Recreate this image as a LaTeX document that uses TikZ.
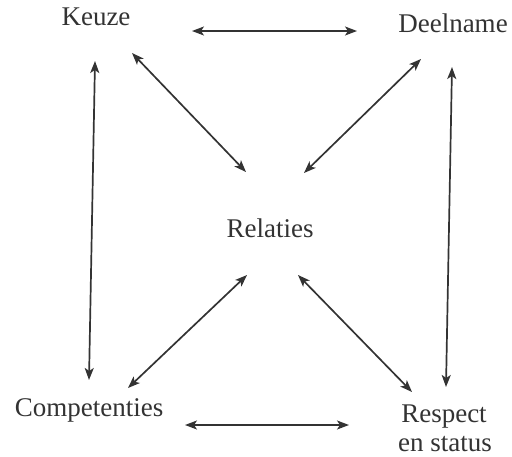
\documentclass[tikz,border=0pt]{standalone}
\usepackage{fontspec}
\setmainfont{Liberation Serif}
\usetikzlibrary{arrows.meta}
\definecolor{ink}{HTML}{333333}
\begin{document}
\begin{tikzpicture}[x=1pt,y=-1pt,
  label/.style={inner sep=0pt,anchor=base,text=ink,font=\fontsize{27}{30}\selectfont},
  link/.style={draw=ink,line width=1.7pt,{Stealth[length=12pt,width=9pt,inset=3pt]}-{Stealth[length=12pt,width=9pt,inset=3pt]}}]
\useasboundingbox (0,0) rectangle (512,456);
% concept labels
\node[label] (keuze) at (96,25) {Keuze};
\node[label] (deelname) at (453,32) {Deelname};
\node[label] (relaties) at (270,237) {Relaties};
\node[label] (competenties) at (89,416) {Competenties};
\node[label] (respect) at (444,422) {Respect};
\node[label] (status) at (445,451) {en status};
% arrow end points
\coordinate (kd1) at (192,31);  \coordinate (kd2) at (357,31);
\coordinate (kr1) at (132,53);  \coordinate (kr2) at (246,172);
\coordinate (kc1) at (95,61);   \coordinate (kc2) at (89,380);
\coordinate (dr1) at (421,59);  \coordinate (dr2) at (304,173);
\coordinate (ds1) at (452,67);  \coordinate (ds2) at (446,387);
\coordinate (cr1) at (128,388); \coordinate (cr2) at (247,275);
\coordinate (rs1) at (298,275); \coordinate (rs2) at (412,392);
\coordinate (cs1) at (185,425); \coordinate (cs2) at (349,425);
% relations
\draw[link] (kd1) -- (kd2);
\draw[link] (kr1) -- (kr2);
\draw[link] (kc1) -- (kc2);
\draw[link] (dr1) -- (dr2);
\draw[link] (ds1) -- (ds2);
\draw[link] (cr1) -- (cr2);
\draw[link] (rs1) -- (rs2);
\draw[link] (cs1) -- (cs2);
\end{tikzpicture}
\end{document}
